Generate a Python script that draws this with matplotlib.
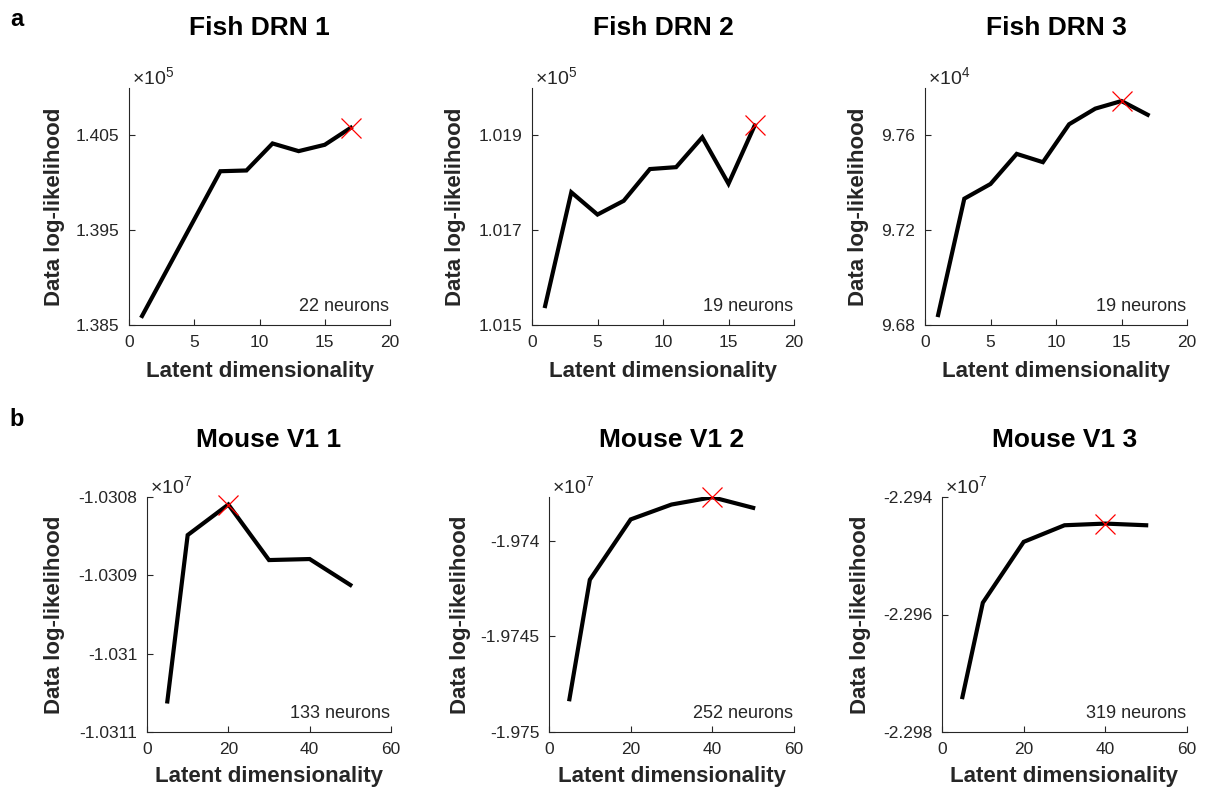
import matplotlib.pyplot as plt
import numpy as np

plt.rcParams['font.family'] = ['Liberation Sans', 'DejaVu Sans']
plt.rcParams['mathtext.fontset'] = 'custom'
plt.rcParams['mathtext.rm'] = 'Liberation Sans'

# ---- data ----
dims_fish = [1, 3, 5, 7, 9, 11, 13, 15, 17]
dims_mouse = [5, 10, 20, 30, 40, 50]

fish1_ll = [138595, 139104, 139613, 140122, 140130, 140415, 140334, 140401, 140581]
fish2_ll = [101540, 101780, 101733, 101762, 101829, 101833, 101896, 101798, 101921]
fish3_ll = [96842, 97333, 97395, 97522, 97487, 97647, 97713, 97745, 97687]
mouse1_ll = [-10310610, -10308486, -10308096, -10308805, -10308792, -10309123]
mouse2_ll = [-19748284, -19742030, -19738873, -19738094, -19737712, -19738267]
mouse3_ll = [-22974060, -22957992, -22947638, -22944810, -22944526, -22944810]

titles = ['Fish DRN 1', 'Fish DRN 2', 'Fish DRN 3',
          'Mouse V1 1', 'Mouse V1 2', 'Mouse V1 3']
n_neurons = [22, 19, 19, 133, 252, 319]
exponents = [5, 5, 4, 7, 7, 7]
ytick_labels = [['1.385', '1.395', '1.405'],
                ['1.015', '1.017', '1.019'],
                ['9.68', '9.72', '9.76'],
                ['-1.0311', '-1.031', '-1.0309', '-1.0308'],
                ['-1.975', '-1.9745', '-1.974'],
                ['-2.298', '-2.296', '-2.294']]
ylims = [(1.385, 1.410), (1.015, 1.020), (9.68, 9.78),
         (-1.0311, -1.0308), (-1.975, -1.97377), (-2.298, -2.294)]

series = [(dims_fish, fish1_ll), (dims_fish, fish2_ll), (dims_fish, fish3_ll),
          (dims_mouse, mouse1_ll), (dims_mouse, mouse2_ll), (dims_mouse, mouse3_ll)]

# ---- layout (pixel boxes: left, top, right, bottom) ----
W, H = 1205, 792
boxes = [(129, 88, 390, 325), (532, 88, 794, 325), (925, 88, 1187, 325),
         (147, 497, 391, 732), (549, 497, 794, 732), (942, 497, 1187, 732)]
ylab_off = [64, 66, 56, 82, 78, 71]

fig = plt.figure(figsize=(W / 100, H / 100), dpi=100)
gray = '#262626'

for i in range(6):
    l, t, r, b = boxes[i]
    ax = fig.add_axes([l / W, 1 - b / H, (r - l) / W, (b - t) / H])
    x, y = series[i]
    x = np.array(x)
    y = np.array(y, dtype=float)
    scale = 10.0 ** exponents[i]

    ax.plot(x, y, color='black', lw=3, solid_joinstyle='miter', zorder=2)
    k = int(np.argmax(y))
    ax.plot(x[k], y[k], 'x', color='red', ms=14, mew=0.9, zorder=3, clip_on=False)

    ax.set_ylim(ylims[i][0] * scale, ylims[i][1] * scale)
    ax.set_yticks([float(s) * scale for s in ytick_labels[i]])
    ax.set_yticklabels(ytick_labels[i])
    if i < 3:
        ax.set_xlim(0, 20)
        ax.set_xticks([0, 5, 10, 15, 20])
    else:
        ax.set_xlim(0, 60)
        ax.set_xticks([0, 20, 40, 60])

    for s in ['top', 'right']:
        ax.spines[s].set_visible(False)
    for s in ['left', 'bottom']:
        ax.spines[s].set_color(gray)
        ax.spines[s].set_linewidth(0.8)
    ax.tick_params(direction='in', length=4, width=0.8, colors=gray,
                   labelsize=12.5, pad=7)

    ax.set_xlabel('Latent dimensionality', fontsize=16, fontweight='bold', color=gray)
    ax.set_ylabel('Data log-likelihood', fontsize=16, fontweight='bold', color=gray)
    ax.xaxis.set_label_coords(0.5, -(36 if i < 3 else 34) / (b - t))
    ax.yaxis.set_label_coords(-ylab_off[i] / (r - l), 0.5)

    ax.text(0.5, 1 + (60 if i < 3 else 57) / (b - t), titles[i], transform=ax.transAxes,
            ha='center', va='center', fontsize=19, fontweight='bold', color='black')
    ax.text(0.012, 1.0, r'$\times\mathregular{10^{%d}}$' % exponents[i],
            transform=ax.transAxes, ha='left', va='bottom', fontsize=14, color=gray)
    ax.text(0.995, 0.08, '%d neurons' % n_neurons[i], transform=ax.transAxes,
            ha='right', va='center', fontsize=13, color=gray)

fig.text(17 / W, 1 - 20 / H, 'a', fontsize=17, fontweight='bold', ha='center', va='center')
fig.text(17 / W, 1 - 420 / H, 'b', fontsize=17, fontweight='bold', ha='center', va='center')

fig.savefig('out.png', dpi=100, facecolor='white')
